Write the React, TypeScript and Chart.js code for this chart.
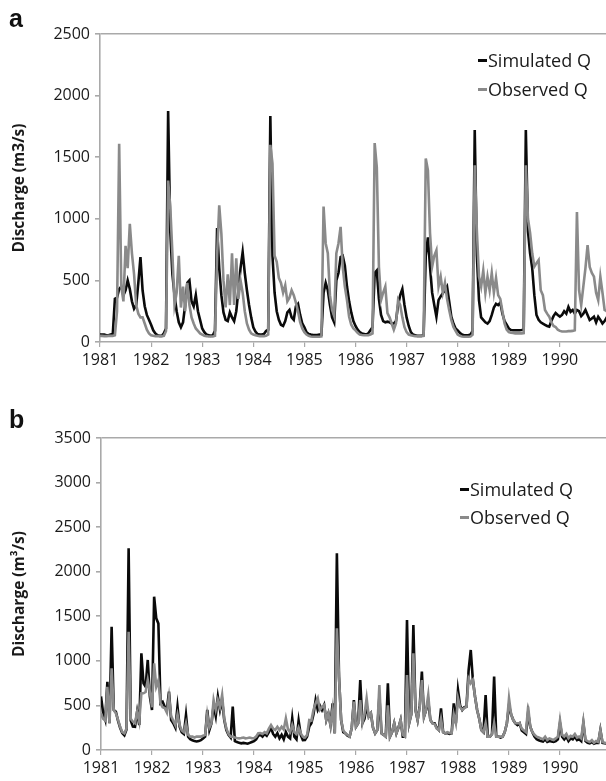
import React, { useEffect, useRef } from 'react';
import { Chart, registerables } from 'chart.js';

Chart.register(...registerables);

// ---- categories: years, each split into 24 half-month periods ----
const YEARS = [1981, 1982, 1983, 1984, 1985, 1986, 1987, 1988, 1989, 1990];
const PERIODS_PER_YEAR = 24;
const X_TICK_YEARS = [1981, 1982, 1983, 1984, 1985, 1986, 1987, 1988, 1989, 1990];

const A_Y_TICKS = [0, 500, 1000, 1500, 2000, 2500];
const B_Y_TICKS = [0, 500, 1000, 1500, 2000, 2500, 3000, 3500];

const LEGEND_SIM = 'Simulated Q';
const LEGEND_OBS = 'Observed Q';
const A_Y_TITLE = 'Discharge (m3/s)';
const B_Y_TITLE = 'Discharge (m³/s)';

// ---- panel a: discharge (m3/s), one value per half month ----
const simA = [
  60, 60, 60, 55, 55, 60, 65, 350, 360, 430, 450, 380, 420, 500, 430, 330, 270, 300, 480, 690, 420, 290, 220, 180,
  140, 95, 70, 55, 50, 50, 70, 110, 1875, 900, 550, 380, 250, 160, 120, 160, 300, 480, 500, 330, 290, 380, 250, 180,
  110, 80, 60, 55, 50, 55, 90, 925, 600, 380, 240, 180, 170, 240, 200, 170, 250, 420, 600, 730, 560, 420, 300, 200,
  120, 85, 65, 60, 60, 65, 90, 100, 1835, 700, 400, 250, 180, 140, 130, 170, 240, 260, 200, 180, 290, 310, 220, 150,
  120, 80, 65, 60, 57, 57, 57, 60, 60, 400, 480, 420, 300, 200, 160, 500, 560, 690, 700, 620, 450, 330, 240, 170,
  130, 100, 80, 70, 65, 60, 70, 95, 120, 560, 580, 350, 220, 170, 160, 165, 160, 150, 150, 170, 300, 380, 430, 300,
  200, 130, 80, 60, 55, 50, 50, 50, 55, 700, 850, 610, 400, 300, 205, 340, 370, 395, 420, 450, 330, 205, 150, 110,
  95, 75, 60, 55, 55, 55, 60, 90, 1720, 700, 340, 200, 180, 160, 150, 170, 220, 280, 310, 300, 320, 230, 170, 140,
  110, 97, 95, 95, 95, 95, 97, 100, 1720, 900, 720, 600, 380, 220, 180, 160, 150, 140, 130, 125, 170, 210, 235, 220,
  206, 220, 250, 230, 285, 245, 260, 230, 260, 250, 210, 230, 260, 220, 178, 190, 205, 160, 205, 180, 150, 170, 200, 170,
];
const obsA = [
  50, 50, 48, 48, 50, 50, 50, 55, 250, 1610, 450, 330, 780, 600, 960, 720, 550, 300, 230, 200, 200, 150, 100, 70,
  55, 50, 48, 48, 48, 48, 50, 90, 1310, 1100, 720, 300, 400, 700, 280, 450, 250, 480, 300, 200, 150, 110, 90, 70,
  60, 50, 48, 45, 45, 45, 50, 700, 1110, 880, 500, 280, 550, 300, 720, 300, 680, 350, 500, 400, 250, 150, 100, 70,
  60, 55, 50, 48, 48, 48, 50, 60, 1600, 1450, 700, 650, 520, 480, 400, 460, 330, 360, 420, 380, 320, 250, 160, 110,
  80, 60, 50, 45, 43, 43, 43, 43, 45, 1100, 800, 720, 380, 260, 210, 720, 800, 935, 610, 450, 340, 205, 140, 110,
  95, 75, 60, 57, 55, 55, 55, 60, 70, 1615, 1420, 610, 340, 400, 450, 235, 200, 150, 100, 150, 340, 300, 200, 120,
  80, 60, 55, 50, 48, 48, 48, 48, 50, 1490, 1395, 885, 612, 700, 745, 449, 530, 400, 480, 350, 260, 180, 122, 90,
  60, 50, 45, 43, 43, 43, 45, 60, 1435, 900, 530, 450, 580, 400, 530, 420, 560, 400, 520, 380, 350, 250, 150, 100,
  80, 75, 73, 70, 70, 70, 70, 72, 1435, 1000, 885, 720, 612, 640, 665, 420, 380, 260, 230, 206, 160, 130, 122, 100,
  90, 85, 85, 85, 88, 88, 90, 95, 1055, 420, 300, 450, 600, 787, 610, 560, 530, 400, 340, 530, 400, 260, 250, 200,
];

// ---- panel b: discharge (m3/s), one value per half month ----
const simB = [
  600, 420, 340, 766, 300, 1383, 449, 430, 330, 250, 190, 165, 230, 2262, 330, 262, 260, 430, 280, 1084, 748, 710, 1010, 598,
  449, 1720, 1477, 1420, 523, 540, 485, 450, 654, 336, 300, 250, 486, 262, 200, 180, 393, 150, 120, 110, 100, 95, 100, 110,
  130, 150, 449, 224, 300, 500, 380, 598, 450, 560, 336, 224, 170, 140, 486, 100, 90, 80, 75, 80, 75, 70, 80, 90,
  100, 120, 160, 170, 150, 180, 160, 200, 250, 180, 150, 190, 130, 170, 120, 200, 150, 130, 355, 150, 120, 330, 170, 110,
  112, 150, 262, 300, 400, 560, 450, 500, 449, 505, 336, 411, 280, 523, 187, 2206, 823, 336, 200, 187, 160, 150, 250, 560,
  262, 300, 785, 300, 350, 500, 374, 411, 250, 187, 224, 600, 187, 170, 150, 748, 150, 200, 300, 187, 250, 336, 150, 150,
  1458, 300, 400, 1402, 449, 336, 500, 879, 374, 450, 550, 336, 300, 300, 250, 224, 467, 200, 187, 190, 180, 187, 523, 300,
  673, 500, 449, 480, 486, 897, 1122, 785, 600, 449, 350, 224, 200, 617, 150, 150, 180, 823, 150, 150, 140, 150, 200, 300,
  500, 400, 336, 300, 280, 300, 220, 200, 180, 420, 262, 200, 150, 120, 110, 100, 95, 120, 90, 100, 95, 90, 100, 120,
  300, 150, 120, 150, 100, 130, 120, 150, 110, 120, 100, 300, 100, 80, 75, 90, 70, 80, 80, 224, 80, 75, 70, 80,
];
const obsB = [
  411, 350, 330, 710, 300, 916, 449, 411, 340, 260, 200, 187, 240, 1327, 350, 318, 300, 430, 320, 636, 636, 650, 785, 650,
  480, 972, 710, 780, 523, 480, 470, 420, 600, 380, 330, 280, 400, 280, 220, 200, 300, 170, 150, 150, 140, 150, 150, 150,
  160, 170, 400, 250, 300, 560, 450, 560, 480, 617, 350, 240, 180, 150, 150, 140, 135, 131, 135, 140, 131, 135, 140, 131,
  131, 150, 187, 190, 180, 200, 187, 240, 280, 240, 224, 260, 224, 260, 230, 355, 230, 200, 280, 200, 180, 250, 187, 150,
  140, 170, 336, 330, 450, 523, 580, 449, 480, 505, 336, 411, 280, 460, 187, 1365, 823, 336, 220, 187, 170, 150, 250, 542,
  262, 300, 560, 300, 400, 580, 374, 411, 250, 187, 224, 729, 187, 170, 150, 500, 150, 200, 300, 187, 250, 336, 170, 150,
  841, 300, 400, 1084, 449, 336, 480, 785, 374, 450, 617, 336, 300, 290, 240, 224, 350, 200, 187, 200, 190, 187, 400, 300,
  580, 480, 449, 470, 486, 800, 748, 785, 600, 449, 350, 224, 200, 300, 150, 150, 180, 300, 150, 150, 150, 150, 200, 300,
  580, 400, 336, 300, 300, 300, 240, 220, 200, 486, 262, 200, 170, 150, 140, 130, 120, 150, 112, 130, 120, 112, 130, 150,
  336, 170, 150, 180, 130, 160, 150, 180, 140, 150, 130, 318, 112, 100, 90, 110, 80, 100, 90, 224, 90, 80, 75, 90,
];

// ---- styles ----
const FONT = "'Open Sans', 'DejaVu Sans', sans-serif";
const TEXT_COLOR = '#1a1a1a';
const AXIS_COLOR = '#a9a9a9';
const SIM_COLOR = '#0a0a0a';
const OBS_COLOR = '#8a8a8a';
const CANVAS_W = 640;

const periodTimes: number[] = YEARS.flatMap((y) =>
  Array.from({ length: PERIODS_PER_YEAR }, (_, k) => y + k / PERIODS_PER_YEAR)
);

function toPoints(values: number[]) {
  return values.map((v, i) => ({ x: periodTimes[i], y: v }));
}

type PanelProps = {
  top: number;
  height: number;
  padTop: number;
  padBottom: number;
  xAxisHeight: number;
  yAxisWidth: number;
  yTicks: number[];
  yTitle: string;
  sim: number[];
  obs: number[];
};

function Panel(p: PanelProps) {
  const ref = useRef<HTMLCanvasElement | null>(null);
  useEffect(() => {
    if (!ref.current) return;
    const yMax = p.yTicks[p.yTicks.length - 1];
    const chart = new Chart(ref.current, {
      type: 'line',
      data: {
        datasets: [
          {
            label: LEGEND_OBS,
            data: toPoints(p.obs),
            borderColor: OBS_COLOR,
            borderWidth: 2.6,
            pointRadius: 0,
            tension: 0,
            order: 0,
          },
          {
            label: LEGEND_SIM,
            data: toPoints(p.sim),
            borderColor: SIM_COLOR,
            borderWidth: 2.6,
            pointRadius: 0,
            tension: 0,
            order: 1,
          },
        ],
      },
      options: {
        animation: false,
        responsive: false,
        events: [],
        layout: {
          autoPadding: false,
          padding: { left: 10, right: 29, top: p.padTop, bottom: p.padBottom },
        },
        plugins: { legend: { display: false }, tooltip: { enabled: false } },
        scales: {
          x: {
            type: 'linear',
            min: 1981,
            max: 1991,
            afterBuildTicks: (s: any) => {
              s.ticks = X_TICK_YEARS.map((v) => ({ value: v }));
            },
            afterFit: (s: any) => {
              s.height = p.xAxisHeight;
            },
            ticks: {
              autoSkip: false,
              maxRotation: 0,
              padding: 4,
              color: TEXT_COLOR,
              font: { family: FONT, size: 16 },
              callback: (v: any) => String(v),
            },
            grid: { drawOnChartArea: false, color: AXIS_COLOR, tickLength: 5, lineWidth: 1.2 },
            border: { color: AXIS_COLOR, width: 1.6 },
          },
          y: {
            type: 'linear',
            min: 0,
            max: yMax,
            afterBuildTicks: (s: any) => {
              s.ticks = p.yTicks.map((v) => ({ value: v }));
            },
            afterFit: (s: any) => {
              s.width = p.yAxisWidth;
            },
            ticks: {
              padding: 5,
              color: TEXT_COLOR,
              font: { family: FONT, size: 16 },
              callback: (v: any) => String(v),
            },
            grid: {
              color: (c: any) => (c.tick && c.tick.value === yMax ? AXIS_COLOR : 'rgba(0,0,0,0)'),
              tickColor: AXIS_COLOR,
              tickLength: 5,
              lineWidth: 1.6,
            },
            border: { color: AXIS_COLOR, width: 1.6 },
            title: {
              display: true,
              text: p.yTitle,
              color: TEXT_COLOR,
              padding: 0,
              font: { family: FONT, size: 15.5, weight: 'bold' },
            },
          },
        },
      },
    } as any);
    return () => chart.destroy();
  }, []);
  return (
    <canvas
      ref={ref}
      width={CANVAS_W}
      height={p.height}
      style={{ position: 'absolute', left: 0, top: p.top, width: CANVAS_W, height: p.height }}
    />
  );
}

function LegendRow({ left, centerY, color, text }: { left: number; centerY: number; color: string; text: string }) {
  return (
    <div
      style={{
        position: 'absolute',
        left,
        top: centerY - 12,
        height: 24,
        display: 'flex',
        alignItems: 'center',
        fontFamily: FONT,
        fontSize: 18,
        color: TEXT_COLOR,
        whiteSpace: 'nowrap',
        lineHeight: '24px',
      }}
    >
      <span style={{ display: 'inline-block', width: 9, height: 3, background: color, marginRight: 1, marginTop: 1 }} />
      <span>{text}</span>
    </div>
  );
}

function PanelLabel({ top, text }: { top: number; text: string }) {
  return (
    <div
      style={{
        position: 'absolute',
        left: 9,
        top,
        fontFamily: "'Liberation Sans', Arial, sans-serif",
        fontWeight: 'bold',
        fontSize: 25,
        lineHeight: '25px',
        color: '#111',
      }}
    >
      {text}
    </div>
  );
}

export default function App() {
  return (
    <div
      style={{
        position: 'absolute',
        left: 0,
        top: 0,
        width: 606,
        height: 781,
        overflow: 'hidden',
        background: '#ffffff',
      }}
    >
      <Panel
        top={0}
        height={385}
        padTop={34}
        padBottom={8}
        xAxisHeight={35}
        yAxisWidth={90}
        yTicks={A_Y_TICKS}
        yTitle={A_Y_TITLE}
        sim={simA}
        obs={obsA}
      />
      <Panel
        top={385}
        height={396}
        padTop={53}
        padBottom={0}
        xAxisHeight={31}
        yAxisWidth={91}
        yTicks={B_Y_TICKS}
        yTitle={B_Y_TITLE}
        sim={simB}
        obs={obsB}
      />
      <PanelLabel top={6} text="a" />
      <PanelLabel top={407} text="b" />
      <LegendRow left={478} centerY={60} color={SIM_COLOR} text={LEGEND_SIM} />
      <LegendRow left={478} centerY={89} color={OBS_COLOR} text={LEGEND_OBS} />
      <LegendRow left={460} centerY={489} color={SIM_COLOR} text={LEGEND_SIM} />
      <LegendRow left={460} centerY={517} color={OBS_COLOR} text={LEGEND_OBS} />
    </div>
  );
}
